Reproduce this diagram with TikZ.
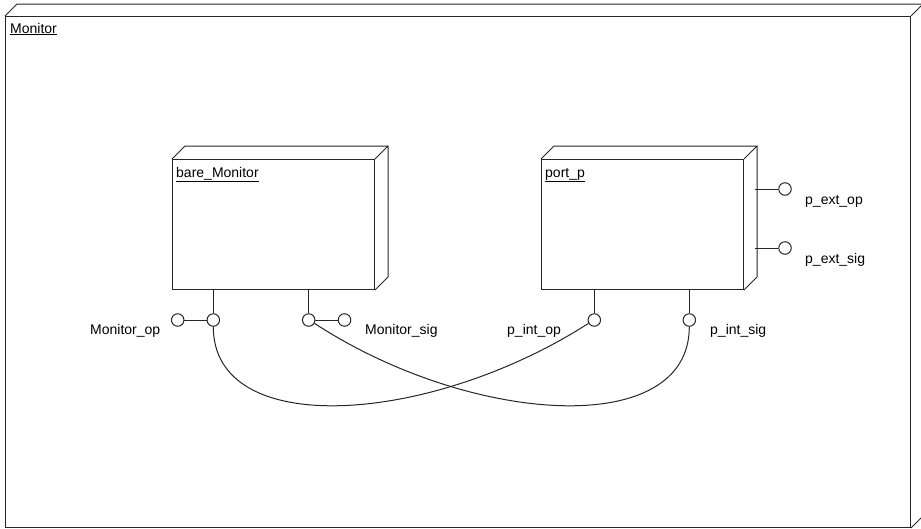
\documentclass[tikz,border=0pt]{standalone}
\usepackage{fontspec}
\setmainfont{Liberation Sans}
\tikzset{
  ln/.style={draw=black!85, line width=1pt},
  box/.style={ln, rectangle, inner sep=0pt, anchor=north west, fill=white},
  port/.style={ln, circle, minimum size=12.5pt, inner sep=0pt, fill=white},
  lbl/.style={font=\fontsize{14}{16}\selectfont, inner sep=0pt, anchor=base west},
}
% back edges of a 3D box drawn behind the front face
\newcommand\solidbox[2]{%
  \draw[ln] (#1.north west) -- ++(#2,-#2) -- ([shift={(#2,-#2)}]#1.north east)
    -- ([shift={(#2,-#2)}]#1.south east) -- (#1.south east)
    (#1.north east) -- ++(#2,-#2);
}
\begin{document}
\begin{tikzpicture}[x=1pt,y=-1pt]
\useasboundingbox (0,0) rectangle (921,528);
% outer component
\node[box, minimum width=905pt, minimum height=511pt] (mon) at (5,16) {};
\solidbox{mon}{12}
\node[lbl] (monl) at (10,33) {\underline{Monitor}};
% inner components
\node[box, minimum width=202pt, minimum height=130pt] (bm) at (172,159) {};
\solidbox{bm}{13}
\node[lbl] (bml) at (176,177) {\underline{bare\_Monitor}};
\node[box, minimum width=202pt, minimum height=130pt] (pp) at (541,159) {};
\solidbox{pp}{13}
\node[lbl] (ppl) at (545,177) {\underline{port\_p}};
% ports of bare_Monitor
\node[port] (mop) at (213.3,320) {};
\node[port] (mopx) at (177.7,320) {};
\node[port] (msig) at (308.7,320) {};
\node[port] (msigx) at (344.5,320) {};
\draw[ln] (bm.south -| mop) -- (mop.north);
\draw[ln] (bm.south -| msig) -- (msig.north);
\draw[ln] (mopx) -- (mop);
\draw[ln] (msig) -- (msigx);
\node[lbl] (mopl) at (90,334) {Monitor\_op};
\node[lbl] (msigl) at (365,334) {Monitor\_sig};
% ports of port_p
\node[port] (pio) at (594.3,320) {};
\node[port] (pis) at (689.3,320) {};
\draw[ln] (pp.south -| pio) -- (pio.north);
\draw[ln] (pp.south -| pis) -- (pis.north);
\node[lbl] (piol) at (507,334) {p\_int\_op};
\node[lbl] (pisl) at (710,334) {p\_int\_sig};
\node[port] (peo) at (785,189) {};
\node[port] (pes) at (785,248) {};
\coordinate (peoa) at (755,189);
\coordinate (pesa) at (755,248);
\draw[ln] (peoa) -- (peo.west);
\draw[ln] (pesa) -- (pes.west);
\node[lbl] (peol) at (805,204) {p\_ext\_op};
\node[lbl] (pesl) at (805,263) {p\_ext\_sig};
% connections
\draw[ln] (mop.south) .. controls (213.3,440) and (430,425) .. (pio.-150);
\draw[ln] (msig.-30) .. controls (470,425) and (689.3,440) .. (pis.south);
\end{tikzpicture}
\end{document}
